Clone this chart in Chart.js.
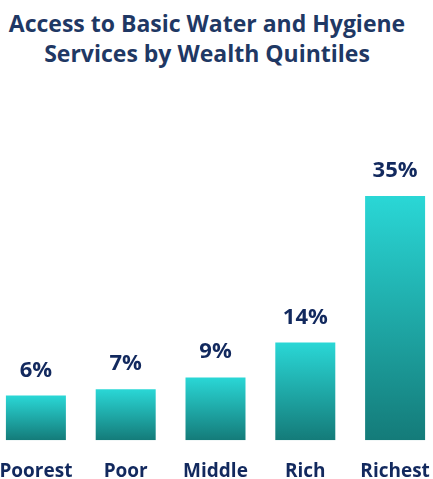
<!DOCTYPE html>
<html>
<head>
<meta charset="utf-8">
<script src="https://cdn.jsdelivr.net/npm/chart.js@4"></script>
<style>
  html, body { margin: 0; padding: 0; background: #fff; overflow: hidden; width: 433px; height: 479px; position: relative; }
  #title {
    position: absolute; left: 0; top: 8px; width: 414px;
    text-align: center; font-family: "Open Sans", sans-serif; font-weight: bold;
    font-size: 23px; line-height: 30px; color: #1f3864;
  }
  #wrap { position: absolute; left: -9px; top: 0; width: 449px; height: 502px; }
  #waterChart { display: block; }
</style>
</head>
<body>
<div id="title">Access to Basic Water and Hygiene<br>Services by Wealth Quintiles</div>
<div id="wrap"><canvas id="waterChart" width="449" height="502"></canvas></div>
<script>
    // wealth quintiles and share with basic water + hygiene (%)
    var quintiles = ['Poorest', 'Poor', 'Middle', 'Rich', 'Richest'];
    var accessShare = [6.4, 7.3, 9.0, 14.0, 35.0];

    var navy = '#12295e';
    var barTop = '#2ad7d6';
    var barBottom = '#147b79';

    //per-bar vertical gradient, cyan on top to teal at base
    function barGradient(ctx) {
        var chart = ctx.chart;
        if (!chart.chartArea || ctx.type !== 'data') return barTop;
        var y = chart.scales.y;
        var top = y.getPixelForValue(ctx.parsed.y);
        var base = y.getPixelForValue(0);
        var g = chart.ctx.createLinearGradient(0, top, 0, base);
        g.addColorStop(0, barTop);
        g.addColorStop(1, barBottom);
        return g;
    }

    //value labels above each bar
    var valueLabels = {
        id: 'valueLabels',
        afterDatasetsDraw: function(chart) {
            var c = chart.ctx;
            var meta = chart.getDatasetMeta(0);
            c.save();
            c.font = 'bold 22px "Open Sans", sans-serif';
            c.fillStyle = navy;
            c.textAlign = 'center';
            c.textBaseline = 'alphabetic';
            meta.data.forEach(function(bar, i) {
                c.fillText(Math.round(accessShare[i]) + '%', bar.x, bar.y - 19);
            });
            c.restore();
        }
    };

    var chrt = document.getElementById('waterChart').getContext('2d');
    var wealthChart = new Chart(chrt, {
        type: 'bar',
        data: {
            labels: quintiles,
            datasets: [{
                label: 'Access',
                data: accessShare,
                backgroundColor: barGradient,
                borderWidth: 0,
                categoryPercentage: 1,
                barPercentage: 0.668
            }]
        },
        options: {
            responsive: false,
            animation: false,
            layout: { padding: { top: 196, left: 0, right: 0, bottom: 0 } },
            plugins: {
                legend: { display: false },
                tooltip: { enabled: false },
                title: { display: false }
            },
            scales: {
                x: {
                    grid: { display: false, drawTicks: false },
                    border: { display: false },
                    ticks: {
                        color: navy,
                        padding: 0,
                        maxRotation: 0,
                        autoSkip: false,
                        font: { family: '"Open Sans", sans-serif', size: 19, weight: 'bold', lineHeight: 3.25 }
                    }
                },
                y: {
                    display: false,
                    min: 0,
                    max: 35
                }
            }
        },
        plugins: [valueLabels]
    });
</script>
</body>
</html>
